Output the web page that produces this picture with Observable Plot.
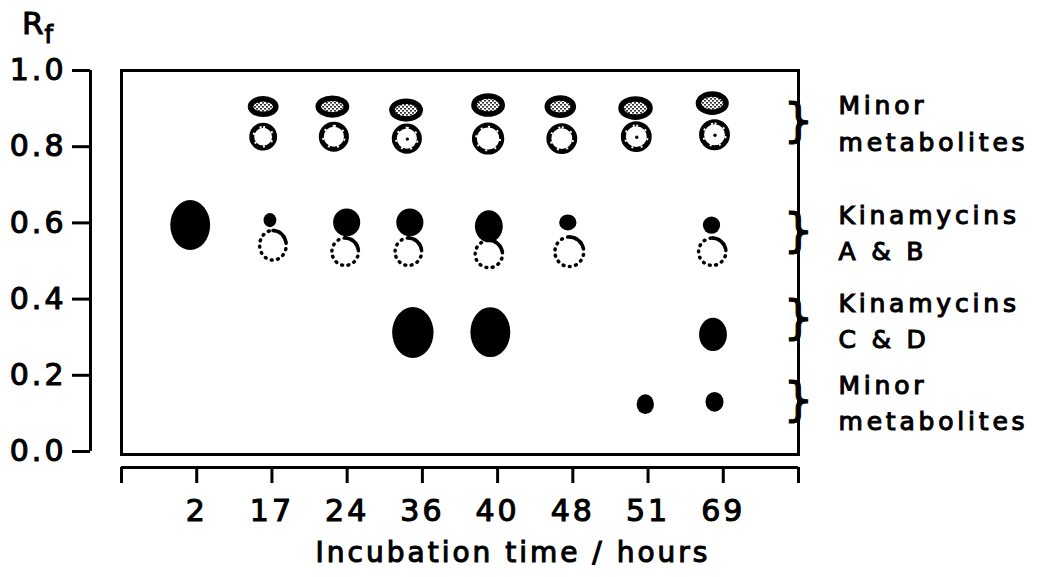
<!DOCTYPE html>
<html><head><meta charset="utf-8">
<script src="https://cdn.jsdelivr.net/npm/d3@7"></script>
<script src="https://cdn.jsdelivr.net/npm/@observablehq/plot@0.6"></script>
<style>body{margin:0;background:#fff} svg{display:block}</style>
</head><body><div id="chart"></div>
<script>
// Lanes (tick slots 0..9; first and last are empty)
const tickLabels = ["", "2", "17", "24", "36", "40", "48", "51", "69", ""];
const yTicks = [0, 0.2, 0.4, 0.6, 0.8, 1.0];

// Spots: x = position along plate (lane units), rf = centre Rf,
// w = spot width (lane units), h = spot height (Rf units)
const solidSpots = [
  {lane: "2",  x: 0.92, rf: 0.593, w: 0.53, h: 0.131},
  {lane: "17", x: 1.98, rf: 0.606, w: 0.17, h: 0.037},
  {lane: "24", x: 3.00, rf: 0.600, w: 0.36, h: 0.073},
  {lane: "36", x: 3.84, rf: 0.600, w: 0.36, h: 0.073},
  {lane: "40", x: 4.89, rf: 0.590, w: 0.37, h: 0.084},
  {lane: "48", x: 5.94, rf: 0.600, w: 0.23, h: 0.042},
  {lane: "69", x: 7.85, rf: 0.593, w: 0.23, h: 0.045},
  {lane: "36", x: 3.88, rf: 0.311, w: 0.55, h: 0.134},
  {lane: "40", x: 4.91, rf: 0.312, w: 0.53, h: 0.131},
  {lane: "69", x: 7.87, rf: 0.306, w: 0.37, h: 0.087},
  {lane: "51", x: 6.97, rf: 0.123, w: 0.23, h: 0.052},
  {lane: "69", x: 7.89, rf: 0.129, w: 0.24, h: 0.052}
];
const hatchedSpots = [
  {lane: "17", x: 1.89, rf: 0.904, w: 0.41, h: 0.055},
  {lane: "24", x: 2.81, rf: 0.904, w: 0.45, h: 0.058},
  {lane: "36", x: 3.79, rf: 0.895, w: 0.45, h: 0.061},
  {lane: "40", x: 4.88, rf: 0.908, w: 0.45, h: 0.062},
  {lane: "48", x: 5.84, rf: 0.904, w: 0.42, h: 0.060},
  {lane: "51", x: 6.84, rf: 0.900, w: 0.46, h: 0.062},
  {lane: "69", x: 7.86, rf: 0.913, w: 0.44, h: 0.062}
];
const ringSpots = [
  {lane: "17", x: 1.89, rf: 0.825, w: 0.37, h: 0.073},
  {lane: "24", x: 2.83, rf: 0.825, w: 0.40, h: 0.079},
  {lane: "36", x: 3.80, rf: 0.820, w: 0.40, h: 0.079},
  {lane: "40", x: 4.88, rf: 0.820, w: 0.43, h: 0.084},
  {lane: "48", x: 5.86, rf: 0.820, w: 0.41, h: 0.081},
  {lane: "51", x: 6.85, rf: 0.825, w: 0.41, h: 0.081},
  {lane: "69", x: 7.89, rf: 0.830, w: 0.41, h: 0.081}
];
const ringCentreDots = [
  {lane: "36", x: 3.80, rf: 0.820},
  {lane: "51", x: 6.85, rf: 0.825},
  {lane: "69", x: 7.89, rf: 0.830}
];
const dottedSpots = [
  {lane: "17", x: 2.02, rf: 0.540, w: 0.40, h: 0.087},
  {lane: "24", x: 2.98, rf: 0.523, w: 0.40, h: 0.081},
  {lane: "36", x: 3.82, rf: 0.523, w: 0.40, h: 0.081},
  {lane: "40", x: 4.89, rf: 0.517, w: 0.41, h: 0.081},
  {lane: "48", x: 5.96, rf: 0.523, w: 0.43, h: 0.087},
  {lane: "69", x: 7.86, rf: 0.523, w: 0.41, h: 0.081}
];
const groupLabels = ["Minor\nmetabolites", "Kinamycins\nA & B", "Kinamycins\nC & D", "Minor\nmetabolites"];
const groupRf = [0.868, 0.58, 0.35, 0.135];

const groups = groupLabels.map((label, i) => ({label, rf: groupRf[i]}));
const ext = {
  x1: d => d.x - d.w / 2, x2: d => d.x + d.w / 2,
  y1: d => d.rf - d.h / 2, y2: d => d.rf + d.h / 2
};
const font = "DejaVu Sans";

const svg = Plot.plot({
  width: 1040, height: 577,
  marginLeft: 121, marginRight: 242, marginTop: 70, marginBottom: 126,
  x: {domain: [0, 9]},
  y: {domain: [0, 1]},
  style: {fontFamily: font, fontWeight: "normal", letterSpacing: "3px", color: "black", background: "white"},
  marks: [
    Plot.frame({stroke: "black", strokeWidth: 3, insetBottom: -3}),
    // y axis (offset to the left of the frame)
    Plot.ruleX([0], {y1: 0, y2: 1, dx: -31, stroke: "black", strokeWidth: 3}),
    Plot.axisY({ticks: yTicks, tickFormat: d => d.toFixed(1), tickSize: 18, tickPadding: 6, dx: -31,
      strokeWidth: 3, fontSize: 30, label: null}),
    // x axis (offset below the frame)
    Plot.ruleY([0], {x1: 0, x2: 9, dy: 16, stroke: "black", strokeWidth: 3}),
    Plot.axisX({ticks: d3.range(10), tickFormat: i => tickLabels[i], tickSize: 16, tickPadding: 16, dy: 16,
      strokeWidth: 3, fontSize: 30, label: null}),
    Plot.text(["Incubation time / hours"], {frameAnchor: "bottom", dx: 53, dy: 110, fontSize: 28}),
    // spots
    Plot.rect(hatchedSpots, {...ext, rx: 999, ry: 999, fill: "url(#hatch)", stroke: "black", strokeWidth: 5.5, inset: 2.75}),
    Plot.rect(ringSpots, {...ext, rx: 999, ry: 999, fill: "white", stroke: "black", strokeWidth: 5, inset: 2.5}),
    Plot.rect(ringSpots, {...ext, rx: 999, ry: 999, fill: "none", stroke: "white", strokeWidth: 2, inset: 4.2, strokeDasharray: "2 7.5"}),
    Plot.dot(ringCentreDots, {x: "x", y: "rf", r: 1.7, fill: "black"}),
    Plot.rect(dottedSpots, {...ext, rx: 999, ry: 999, fill: "none", stroke: "black", strokeWidth: 3.5, inset: 1.75, strokeDasharray: "0.8 5.6", strokeLinecap: "round"}),
    Plot.rect(dottedSpots, {...ext, rx: 999, ry: 999, fill: "none", stroke: "black", strokeWidth: 3.5, inset: 1.75, strokeDasharray: "19 1000"}),
    Plot.rect(solidSpots, {...ext, rx: 999, ry: 999, fill: "black"}),
    // right-hand group labels
    Plot.text(groups, {y: "rf", text: () => "}", frameAnchor: "right", dx: 18, fontSize: 47}),
    Plot.text(groups, {y: "rf", text: "label", frameAnchor: "right", dx: 40, textAnchor: "start", fontSize: 25, lineHeight: 1.45})
  ]
});

const s = d3.select(svg);
s.insert("defs", ":first-child").html(
  '<pattern id="hatch" width="4" height="4" patternUnits="userSpaceOnUse">' +
  '<rect width="4" height="4" fill="white"/>' +
  '<rect x="0" y="0" width="2" height="1.6" fill="#333"/>' +
  '<rect x="2" y="2" width="2" height="1.6" fill="#333"/></pattern>');
const rf = s.append("text").attr("x", 22).attr("y", 34).attr("text-anchor", "start")
  .attr("font-family", font).attr("font-size", 31).attr("fill", "black").attr("letter-spacing", "1px");
rf.append("tspan").text("R");
rf.append("tspan").attr("dy", 9).attr("font-size", 24).text("f");
// heavier glyphs, like the original bitmap font
s.selectAll("text").attr("stroke", "black").attr("stroke-width", 1.1);
// wider spacing for the group labels on the right
s.selectAll("text").filter(function () { return /metabolites|Kinamycins/.test(this.textContent); })
  .attr("letter-spacing", "3.8px");
document.getElementById("chart").append(svg);
</script>
</body></html>
